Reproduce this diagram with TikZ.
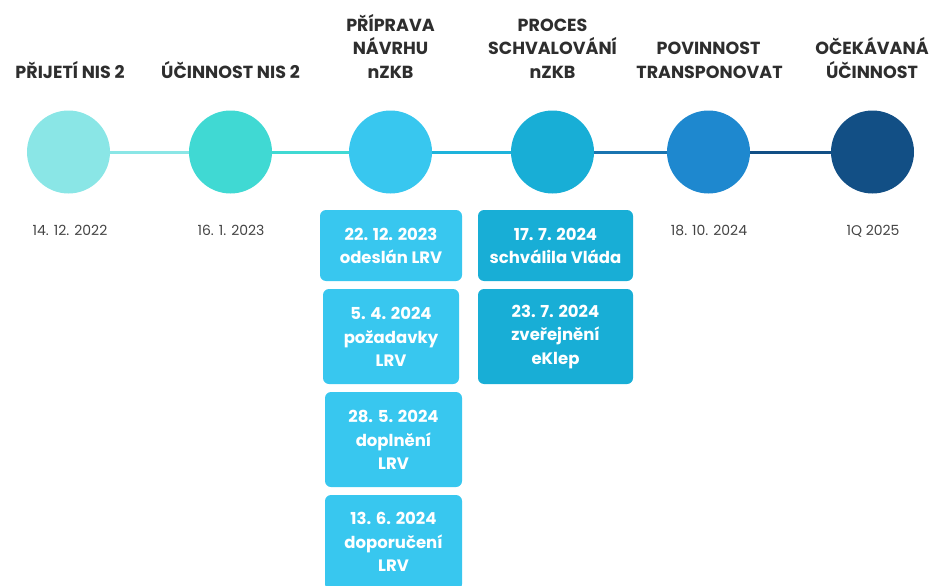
\documentclass[tikz,border=0pt]{standalone}
\usepackage{fontspec}
\setmainfont{Poppins}
\definecolor{cA}{HTML}{8AE6E6}
\definecolor{cB}{HTML}{40D9D3}
\definecolor{cC}{HTML}{38C7EF}
\definecolor{cD}{HTML}{18AED6}
\definecolor{cE}{HTML}{1E88CF}
\definecolor{cF}{HTML}{124F85}
\definecolor{ttl}{HTML}{2E2E2E}
\definecolor{dt}{HTML}{444444}
\tikzset{
  dot/.style={circle, minimum size=83pt, inner sep=0pt, fill=#1},
  ttlnode/.style={anchor=base, align=center, text=ttl, font=\fontsize{17.5}{23}\selectfont\bfseries, inner sep=0pt},
  datenode/.style={anchor=base, text=dt, font=\fontsize{14}{16}\selectfont, inner sep=0pt},
  card/.style={fill=#1, rounded corners=6pt, draw=none},
  cardtxt/.style={align=center, text=white, font=\fontsize{16.5}{23.5}\selectfont\bfseries, inner sep=0pt},
  seg/.style={line width=3pt, draw=#1}
}
\begin{document}
\begin{tikzpicture}[x=1pt,y=-1pt]
\useasboundingbox (0,0) rectangle (932,586);
\clip (0,0) rectangle (932,586);
% circles
\node[dot=cA] (c1) at (68.5,152) {};
\node[dot=cB] (c2) at (230.5,152) {};
\node[dot=cC] (c3) at (390.5,152) {};
\node[dot=cD] (c4) at (552.5,152) {};
\node[dot=cE] (c5) at (708.5,152) {};
\node[dot=cF] (c6) at (872.5,152) {};
\draw[seg=cA] (c1.east) -- (c2.west);
\draw[seg=cB] (c2.east) -- (c3.west);
\draw[seg=cD!80!cC] (c3.east) -- (c4.west);
\draw[seg=cE!85!black] (c4.east) -- (c5.west);
\draw[seg=cF] (c5.east) -- (c6.west);
% titles
\node[ttlnode] (t1) at (70,78) {PŘIJETÍ NIS 2};
\node[ttlnode] (t2) at (230.5,78) {ÚČINNOST NIS 2};
\node[ttlnode] (t3a) at (390.5,32) {PŘÍPRAVA};
\node[ttlnode] (t3b) at (390.5,55) {NÁVRHU};
\node[ttlnode] (t3c) at (390.5,78) {nZKB};
\node[ttlnode] (t4a) at (552.5,32) {PROCES};
\node[ttlnode] (t4b) at (552.5,55) {SCHVALOVÁNÍ};
\node[ttlnode] (t4c) at (552.5,78) {nZKB};
\node[ttlnode] (t5a) at (708.5,55) {POVINNOST};
\node[ttlnode] (t5b) at (709.5,78) {TRANSPONOVAT};
\node[ttlnode] (t6a) at (872,55) {OČEKÁVANÁ};
\node[ttlnode] (t6b) at (872,78) {ÚČINNOST};
% dates
\node[datenode] (d1) at (70,235) {14. 12. 2022};
\node[datenode] (d2) at (231,235) {16. 1. 2023};
\node[datenode] (d5) at (709,235) {18. 10. 2024};
\node[datenode] (d6) at (873,235) {1Q 2025};
% cards column 3
\draw[card=cC] (320,210) rectangle (462,281);
\node[cardtxt] (b31) at (391,246) {22. 12. 2023\\odeslán LRV};
\draw[card=cC] (323,289) rectangle (459,384);
\node[cardtxt] (b32) at (391,337) {5. 4. 2024\\požadavky\\LRV};
\draw[card=cC] (325,392) rectangle (462,487);
\node[cardtxt] (b33) at (393.5,440) {28. 5. 2024\\doplnění\\LRV};
\draw[card=cC] (325,495) rectangle (462,590);
\node[cardtxt] (b34) at (393.5,542) {13. 6. 2024\\doporučení\\LRV};
% cards column 4
\draw[card=cD] (478,210) rectangle (633,281);
\node[cardtxt] (b41) at (555.5,246) {17. 7. 2024\\schválila Vláda};
\draw[card=cD] (478,289) rectangle (633,384);
\node[cardtxt] (b42) at (555.5,337) {23. 7. 2024\\zveřejnění\\eKlep};
\end{tikzpicture}
\end{document}
